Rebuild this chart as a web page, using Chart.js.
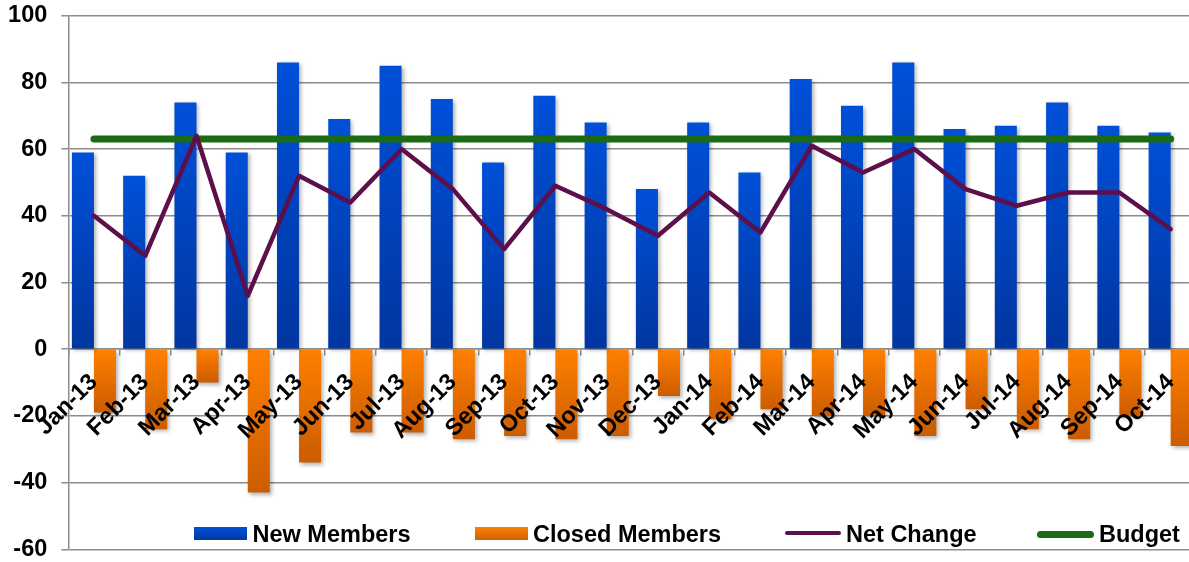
<!DOCTYPE html>
<html>
<head>
<meta charset="utf-8">
<script src="https://cdn.jsdelivr.net/npm/chart.js@4.4.1/dist/chart.umd.min.js"></script>
<style>
  html, body { margin: 0; padding: 0; background: #fff; overflow: hidden; }
  #wrap { position: relative; width: 1189px; height: 562px; overflow: hidden; }
  #box { position: absolute; left: 0; top: 0; width: 1200px; height: 562px; }
  .lg-text { position: absolute; top: 521px; height: 24px; line-height: 23.5px; font: bold 23.5px 'Liberation Sans', Arial, sans-serif; color: #000; white-space: nowrap; }
  .sw { position: absolute; }
</style>
</head>
<body>
<div id="wrap">
  <div id="box"><canvas id="c" width="1200" height="562"></canvas></div>
  <div class="sw" style="left:194px;top:527px;width:53px;height:12.5px;background:linear-gradient(#0050d8,#0038a0);"></div>
  <div class="lg-text" style="left:252.5px;">New Members</div>
  <div class="sw" style="left:475px;top:527px;width:53px;height:12.5px;background:linear-gradient(#ff8000,#d06000);"></div>
  <div class="lg-text" style="left:533px;">Closed Members</div>
  <div class="sw" style="left:785px;top:531.3px;width:56px;height:4px;border-radius:2px;background:#5c0f4a;"></div>
  <div class="lg-text" style="left:846px;">Net Change</div>
  <div class="sw" style="left:1037px;top:530.5px;width:57px;height:7px;border-radius:3.5px;background:#1a6b14;"></div>
  <div class="lg-text" style="left:1099px;">Budget</div>
</div>
<script>
const categories = ['Jan-13','Feb-13','Mar-13','Apr-13','May-13','Jun-13','Jul-13','Aug-13','Sep-13','Oct-13','Nov-13','Dec-13',
                    'Jan-14','Feb-14','Mar-14','Apr-14','May-14','Jun-14','Jul-14','Aug-14','Sep-14','Oct-14'];
const newMembers    = [59, 52, 74, 59, 86, 69, 85, 75, 56, 76, 68, 48, 68, 53, 81, 73, 86, 66, 67, 74, 67, 65];
const closedMembers = [-19, -24, -10, -43, -34, -25, -25, -27, -26, -27, -26, -14, -21, -18, -20, -20, -26, -18, -24, -27, -20, -29];
const netChange     = [40, 28, 64, 16, 52, 44, 60, 48, 30, 49, 42, 34, 47, 35, 61, 53, 60, 48, 43, 47, 47, 36];
const budget        = [63, 63, 63, 63, 63, 63, 63, 63, 63, 63, 63, 63, 63, 63, 63, 63, 63, 63, 63, 63, 63, 63];
const yTicks = [-60, -40, -20, 0, 20, 40, 60, 80, 100];

Chart.defaults.font.family = "'Liberation Sans', Arial, sans-serif";
Chart.defaults.color = '#000';

function barGradient(topCol, botCol) {
  return function(ctx) {
    const chart = ctx.chart;
    const y = chart.scales && chart.scales.y;
    if (!chart.chartArea || !y || ctx.raw === undefined) return topCol;
    const v = ctx.raw;
    const p0 = y.getPixelForValue(0);
    const p1 = y.getPixelForValue(v);
    const top = Math.min(p0, p1), bot = Math.max(p0, p1);
    if (bot - top < 1) return topCol;
    const g = chart.ctx.createLinearGradient(0, top, 0, bot);
    g.addColorStop(0, topCol);
    g.addColorStop(1, botCol);
    return g;
  };
}

const shadowPlugin = {
  id: 'barShadow',
  beforeDatasetDraw(chart, args) {
    if (args.meta.type === 'bar') {
      const c = chart.ctx;
      c.save();
      c.shadowColor = 'rgba(0,0,0,0.3)';
      c.shadowBlur = 4;
      c.shadowOffsetX = 2;
      c.shadowOffsetY = 2;
    }
  },
  afterDatasetDraw(chart, args) {
    if (args.meta.type === 'bar') chart.ctx.restore();
  }
};

new Chart(document.getElementById('c'), {
  type: 'bar',
  data: {
    labels: categories,
    datasets: [
      { type: 'line', label: 'Net Change', data: netChange, borderColor: '#5c0f4a', backgroundColor: '#5c0f4a',
        borderWidth: 4.5, pointRadius: 0, tension: 0, borderJoinStyle: 'round', borderCapStyle: 'round', order: 1 },
      { type: 'line', label: 'Budget', data: budget, borderColor: '#1a6b14', backgroundColor: '#1a6b14',
        borderWidth: 7, pointRadius: 0, borderCapStyle: 'round', order: 2 },
      { label: 'New Members', data: newMembers, backgroundColor: barGradient('#0050d8', '#0036a0'),
        categoryPercentage: 0.86, barPercentage: 1, order: 3 },
      { label: 'Closed Members', data: closedMembers, backgroundColor: barGradient('#ff8000', '#cc5c00'),
        categoryPercentage: 0.86, barPercentage: 1, order: 4 }
    ]
  },
  options: {
    responsive: false,
    animation: false,
    layout: { padding: { left: 8, top: 15.7, right: 3.7, bottom: 12.7 } },
    plugins: { legend: { display: false }, tooltip: { enabled: false } },
    scales: {
      x: {
        position: { y: 0 },
        grid: { display: true, drawOnChartArea: false, drawTicks: true, tickLength: 6, color: '#8c8c8c', lineWidth: 1.5, offset: true },
        border: { display: true, color: '#8c8c8c', width: 1.5 },
        ticks: { z: 1, autoSkip: false, minRotation: 45, maxRotation: 45, padding: 15,
                 font: { size: 23.5, weight: 'bold', lineHeight: 1 }, color: '#000' },
        afterFit(scale) { scale.paddingLeft = 0; scale.paddingRight = 0; scale.paddingTop = 0; scale.paddingBottom = 0; }
      },
      y: {
        min: -60, max: 100,
        afterBuildTicks(scale) { scale.ticks = yTicks.map(v => ({ value: v })); },
        afterFit(scale) { scale.width = 60.3; scale.paddingTop = 0; scale.paddingBottom = 0; },
        grid: { color: '#8c8c8c', lineWidth: 1.5, tickLength: 7 },
        border: { display: true, color: '#8c8c8c', width: 1.5 },
        ticks: { padding: 14, font: { size: 23.5, weight: 'bold', lineHeight: 1 }, color: '#000' }
      }
    }
  },
  plugins: [shadowPlugin]
});
</script>
</body>
</html>
